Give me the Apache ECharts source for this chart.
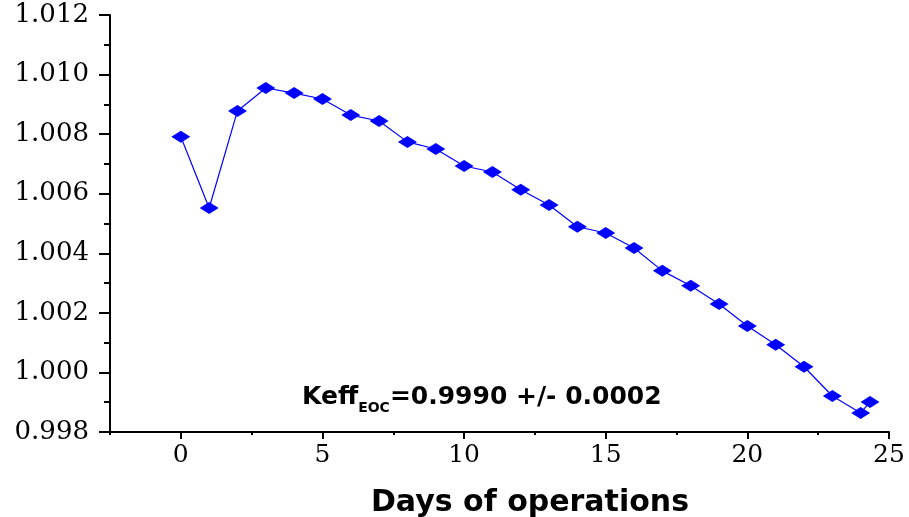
<!DOCTYPE html>
<html>
<head>
<meta charset="utf-8">
<script src="https://cdn.jsdelivr.net/npm/echarts@6/dist/echarts.min.js"></script>
<style>html,body{margin:0;padding:0;background:#fff}#c{width:909px;height:517px}</style>
</head>
<body>
<div id="c"></div>
<script>
const days = [0,1,2,3,4,5,6,7,8,9,10,11,12,13,14,15,16,17,18,19,20,21,22,23,24,24.33];
const keff = [1.00791,1.00552,1.00878,1.00955,1.00938,1.00918,1.00864,1.00844,1.00774,1.00750,1.00693,1.00673,1.00613,1.00562,1.00489,1.00468,1.00418,1.00341,1.00291,1.00230,1.00156,1.00093,1.00019,0.99921,0.99864,0.99901];
const xMajorTicks = [0,5,10,15,20,25];
const yTickLabels = ['0.998','1.000','1.002','1.004','1.006','1.008','1.010','1.012'];
const xTitle = 'Days of operations';
const annotMain = 'Keff';
const annotSub = 'EOC';
const annotRest = '=0.9990 +/- 0.0002';

const chart = echarts.init(document.getElementById('c'));
const serif = 'DejaVu Serif';
const sans = 'DejaVu Sans';
const axisLineStyle = {color:'#000', width:2};
chart.setOption({
  animation:false,
  backgroundColor:'#fff',
  grid:{left:110,right:20,top:15,bottom:85,containLabel:false,outerBoundsMode:'none'},
  xAxis:[{
    type:'value', min:-2.5, max:25, interval:2.5,
    axisLine:{show:true,onZero:false,lineStyle:axisLineStyle},
    axisTick:{show:true,length:3,lineStyle:{color:'#000',width:2}},
    axisLabel:{show:false},
    splitLine:{show:false}
  },{
    type:'value', min:-2.5, max:25, position:'bottom',
    axisLine:{show:false},
    axisTick:{show:true,length:7,customValues:xMajorTicks,lineStyle:{color:'#000',width:2}},
    axisLabel:{show:true,customValues:xMajorTicks,margin:11,fontFamily:serif,fontSize:25,color:'#000'},
    splitLine:{show:false}
  }],
  yAxis:{
    type:'value', min:0.998, max:1.012, interval:0.002,
    axisLine:{show:true,onZero:false,lineStyle:axisLineStyle},
    axisTick:{show:true,length:11,lineStyle:{color:'#000',width:2}},
    minorTick:{show:true,splitNumber:2,length:6,lineStyle:{color:'#000',width:2}},
    axisLabel:{margin:21,fontFamily:serif,fontSize:26,color:'#000',
      formatter:function(v){const i=Math.round((v-0.998)/0.002);return yTickLabels[i]!==undefined?yTickLabels[i]:v.toFixed(3);}},
    splitLine:{show:false}
  },
  series:[{
    type:'line', xAxisIndex:0,
    data: days.map((d,i)=>[d,keff[i]]),
    symbol:'diamond', symbolSize:[19,12], showSymbol:true,
    itemStyle:{color:'#0000FF'},
    lineStyle:{color:'#0000FF',width:1.2}
  }],
  graphic:[{
    type:'text', x:530, y:503,
    style:{text:xTitle, fill:'#000', font:'bold 30px "DejaVu Sans"', textAlign:'center', textVerticalAlign:'middle'}
  },{
    type:'text', x:302, y:385,
    style:{
      text:'{a|'+annotMain+'}{s|'+annotSub+'}{a|'+annotRest+'}',
      rich:{
        a:{fontFamily:sans,fontWeight:'bold',fontSize:25,fill:'#000',color:'#000',lineHeight:30,verticalAlign:'top'},
        s:{fontFamily:sans,fontWeight:'bold',fontSize:14,fill:'#000',color:'#000',lineHeight:30,verticalAlign:'bottom'}
      }
    }
  }]
});
</script>
</body>
</html>
